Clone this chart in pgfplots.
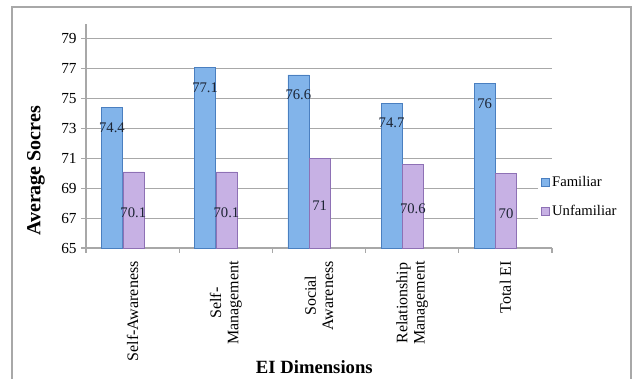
\documentclass[border=0pt]{standalone}
\usepackage{pgfplots}
\pgfplotsset{compat=1.18}
\usepackage{fontspec}
\setmainfont{Liberation Serif}
\definecolor{famM}{HTML}{82B4EA}
\definecolor{famE}{HTML}{4A7FC0}
\definecolor{unfM}{HTML}{C7B1E4}
\definecolor{unfE}{HTML}{8E71B5}
\definecolor{gridc}{HTML}{A8A8A8}
\definecolor{labc}{HTML}{1C2433}
\begin{document}
\begin{tikzpicture}
\useasboundingbox (-64.5pt,-97.5pt) rectangle (411pt,186pt);
\draw[gridc, line width=0.8pt] (-55.5pt,-110pt) -- (-55.5pt,180.75pt) -- (408.75pt,180.75pt) -- (408.75pt,-110pt);
\begin{axis}[
  at={(0,0)}, anchor=south west,
  scale only axis, width=349.5pt, height=168pt,
  ybar, bar width=15.75pt,
  ymin=65, ymax=80, xmin=-0.5, xmax=4.5,
  ytick={65,67,...,79},
  xtick={-0.5,0.5,...,4.5},
  x tick label as interval,
  xticklabels={Self-Awareness, Self-\\Management, Social\\Awareness, Relationship\\Management, Total EI},
  xticklabel style={rotate=90, anchor=east, align=center, font=\fontsize{12}{13}\selectfont, text=black},
  xticklabel shift=3pt,
  yticklabel style={font=\fontsize{11.5}{13}\selectfont, text=black},
  /pgf/number format/assume math mode=true,
  axis x line*=bottom, axis y line*=left,
  axis line style={gridc, line width=0.8pt},
  tick align=outside, major tick length=3.5pt,
  tick style={gridc, line width=0.8pt},
  ymajorgrids, grid style={gridc, line width=0.8pt},
  xlabel={EI Dimensions}, ylabel={Average Socres},
  xlabel style={font=\bfseries\fontsize{14}{16}\selectfont, at={(rel axis cs:0.49,0)}, anchor=north, yshift=-81pt},
  ylabel style={font=\bfseries\fontsize{15}{17}\selectfont, at={(rel axis cs:-0.1073,0.344)}, anchor=center},
  legend style={at={(0.97,0.228)}, anchor=west, draw=none, fill=white, font=\fontsize{11}{13}\selectfont, row sep=9pt, inner sep=2pt},
  legend cell align=left,
  nodes near coords,
  every node near coord/.append style={font=\fontsize{11}{13}\selectfont, text=labc},
]
\addplot[bar shift=-15.5pt, draw=famE, line width=0.4pt, fill=famM,
  every node near coord/.append style={anchor=center, yshift=-15pt},
  legend image code/.code={\fill[fill=famM, draw=famE] (0pt,-3pt) rectangle (6pt,3pt);}]
  coordinates {(0,74.4) (1,77.1) (2,76.6) (3,74.7) (4,76)};
\addlegendentry{Familiar}
\addplot[bar shift=0.5pt, draw=unfE, line width=0.4pt, fill=unfM,
  visualization depends on={y \as \rawy},
  every node near coord/.append style={anchor=center, yshift={-(\rawy-65)*5.6pt-2pt}},
  legend image code/.code={\fill[fill=unfM, draw=unfE] (0pt,-3pt) rectangle (6pt,3pt);}]
  coordinates {(0,70.1) (1,70.1) (2,71) (3,70.6) (4,70)};
\addlegendentry{Unfamiliar}
\end{axis}
\end{tikzpicture}
\end{document}
